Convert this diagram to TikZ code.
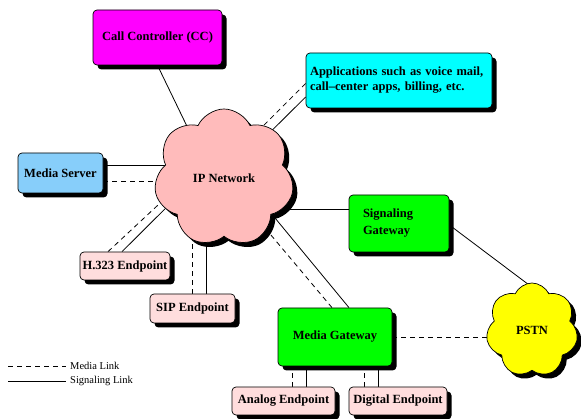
\documentclass[tikz,border=0pt]{standalone}
\usepackage{fontspec}
\setmainfont{Liberation Serif}
\usetikzlibrary{shapes.symbols,shadows,calc,backgrounds}

\definecolor{ccmag}{RGB}{255,0,255}
\definecolor{appcyan}{RGB}{0,255,255}
\definecolor{msblue}{RGB}{135,206,250}
\definecolor{netpink}{RGB}{255,187,187}
\definecolor{eppink}{RGB}{255,221,221}
\definecolor{gwgreen}{RGB}{0,255,0}
\definecolor{pstnyel}{RGB}{255,255,0}

\tikzset{
  shadowed/.style={drop shadow={shadow xshift=4.5pt,shadow yshift=-4.5pt,fill=black,opacity=1}},
  box/.style={shadowed,draw=black,line width=0.7pt,rounded corners=4pt,inner sep=0pt,
    font=\fontsize{12.5}{15}\selectfont\bfseries},
  netcloud/.style={shadowed,cloud,cloud puffs=7,cloud puff arc=130,aspect=1,draw=black,
    line width=0.7pt,inner sep=0pt,font=\fontsize{12.5}{15}\selectfont\bfseries},
  sig/.style={line width=0.8pt},
  med/.style={line width=0.8pt,dash pattern=on 5pt off 4pt},
  legend/.style={font=\fontsize{10.5}{12}\selectfont,anchor=west,inner sep=0pt}
}

\begin{document}
\begin{tikzpicture}[x=1pt,y=-1pt]
  \useasboundingbox (0,0) rectangle (581,419);

  % network clouds
  \node[netcloud,fill=netpink,minimum width=140pt,minimum height=138pt,shape border rotate=10] (ip) at (224,178) {IP Network};
  \node[netcloud,fill=pstnyel,minimum width=92pt,minimum height=94pt,shape border rotate=10] (pstn) at (532,330) {PSTN};

  % boxes
  \node[box,fill=ccmag,minimum width=129pt,minimum height=55pt] (cc) at (157.5,37.5) {Call Controller (CC)};
  \node[box,fill=appcyan,minimum width=186pt,minimum height=55pt,text width=178pt,align=left] (apps) at (399,80.5)
    {Applications such as voice mail,\\call\textendash center apps, billing, etc.};
  \node[box,fill=msblue,minimum width=85pt,minimum height=40pt] (ms) at (60.5,173) {Media Server};
  \node[box,fill=eppink,minimum width=90pt,minimum height=28pt] (h323) at (125,266) {H.323 Endpoint};
  \node[box,fill=eppink,minimum width=85pt,minimum height=29pt] (sip) at (192.5,308.5) {SIP Endpoint};
  \node[box,fill=gwgreen,minimum width=100pt,minimum height=57pt,text width=72pt,align=left,
    font=\fontsize{12.5}{17}\selectfont\bfseries] (sg) at (399,223.5) {Signaling\\Gateway};
  \node[box,fill=gwgreen,minimum width=114pt,minimum height=58pt] (mg) at (335,337) {Media Gateway};
  \node[box,fill=eppink,minimum width=103pt,minimum height=28pt] (analog) at (283.5,401) {Analog Endpoint};
  \node[box,fill=eppink,minimum width=98pt,minimum height=28pt] (digital) at (398,401) {Digital Endpoint};

  % links (drawn behind the shapes, so they stop at the outlines)
  \begin{scope}[on background layer]
    \draw[sig] (cc.south) -- ($(ip.center)+(-12,0)$);
    \draw[sig] ($(apps.west)+(0,16.5)$) -- (ip.center);
    \draw[med] ($(apps.west)+(0,3)$) -- ($(ip.center)+(0,-13)$);
    \draw[sig] ($(ms.east)+(0,-8)$) -- ($(ip.center)+(0,-13)$);
    \draw[med] ($(ms.east)+(0,8)$) -- ($(ip.center)+(0,3)$);
    \draw[med] ($(h323.north)+(-17,0)$) -- ($(ip.center)+(-37,0)$);
    \draw[sig] ($(h323.north)+(-3,0)$) -- ($(ip.center)+(-28,0)$);
    \draw[med] (sip.north) -- ++(0,-80);
    \draw[sig] ($(sip.north)+(14,0)$) -- ++(0,-80);
    \draw[med] ($(mg.north)+(-3,0)$) -- ($(ip.center)+(-1,0)$);
    \draw[sig] ($(mg.north)+(14,0)$) -- ($(ip.center)+(18,0)$);
    \draw[sig] ($(sg.west)+(0,-14)$) -- ++(-110,0);
    \draw[sig] ($(sg.east)+(0,1.5)$) -- ($(pstn.center)+(21,-27)$);
    \draw[med] (mg.east) -- ($(pstn.center)+(0,7)$);
    \draw[med] ($(analog.north)+(9,0)$) -- ++(0,-30);
    \draw[sig] ($(analog.north)+(23,0)$) -- ++(0,-30);
    \draw[med] ($(digital.north)+(-34,0)$) -- ++(0,-30);
    \draw[sig] ($(digital.north)+(-20,0)$) -- ++(0,-30);
  \end{scope}

  % legend
  \coordinate (m1) at (8,366);
  \coordinate (m2) at (66,366);
  \coordinate (s1) at (8,381);
  \coordinate (s2) at (66,381);
  \draw[med,line width=0.6pt] (m1) -- (m2);
  \draw[sig,line width=0.6pt] (s1) -- (s2);
  \node[legend] (lm) at (70,366) {Media Link};
  \node[legend] (ls) at (70,381) {Signaling Link};
\end{tikzpicture}
\end{document}
